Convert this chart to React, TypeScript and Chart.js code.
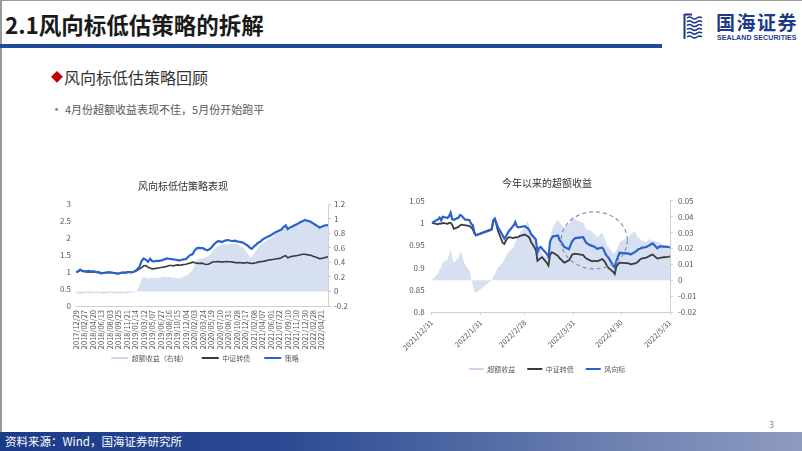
import React, { useEffect, useRef } from 'react';
import { Chart, registerables } from 'chart.js';

Chart.register(...registerables);

const FONT = '"Noto Sans CJK SC", "Noto Sans", sans-serif';
Chart.defaults.font.family = FONT;

// ---------------- Left chart: 风向标低估策略表现 ----------------
const leftTitle = '风向标低估策略表现';
const leftSeriesNames = ['超额收益（右轴）', '中证转债', '策略'];
const leftTickLabels = [
  '2017/12/29', '2018/02/27', '2018/04/20', '2018/06/13', '2018/08/03', '2018/09/25',
  '2018/11/21', '2019/01/14', '2019/03/12', '2019/05/07', '2019/06/27', '2019/08/16',
  '2019/10/15', '2019/12/04', '2020/02/03', '2020/03/24', '2020/05/19', '2020/07/10',
  '2020/08/31', '2020/10/28', '2020/12/17', '2021/02/08', '2021/04/07', '2021/06/01',
  '2021/07/22', '2021/09/10', '2021/11/10', '2021/12/30', '2022/02/28', '2022/04/21',
];
const leftPointsPerTick = 4;
const leftExcess = [
  -0.02, -0.03, -0.04, -0.03, -0.03, -0.02, -0.03, -0.03, -0.02, -0.02, -0.03, -0.02,
  -0.03, -0.04, -0.03, -0.02, -0.02, -0.02, -0.03, -0.02, -0.03, -0.04, -0.02, -0.02,
  -0.03, -0.02, -0.02, -0.01, -0.01, 0.02, 0.08, 0.17, 0.2, 0.19, 0.17, 0.19,
  0.18, 0.19, 0.18, 0.19, 0.19, 0.2, 0.2, 0.19, 0.2, 0.19, 0.18, 0.19,
  0.18, 0.18, 0.19, 0.21, 0.22, 0.23, 0.26, 0.29, 0.38, 0.43, 0.45, 0.45,
  0.46, 0.47, 0.48, 0.5, 0.53, 0.57, 0.6, 0.62, 0.63, 0.64, 0.65, 0.64,
  0.65, 0.66, 0.65, 0.66, 0.65, 0.63, 0.61, 0.6, 0.57, 0.52, 0.48, 0.47,
  0.52, 0.56, 0.6, 0.63, 0.66, 0.68, 0.7, 0.72, 0.73, 0.75, 0.78, 0.81,
  0.82, 0.84, 0.86, 0.87, 0.86, 0.87, 0.88, 0.89, 0.91, 0.92, 0.94, 0.95,
  0.97, 0.98, 0.97, 0.95, 0.93, 0.92, 0.9, 0.88, 0.88, 0.88, 0.89, 0.89,
];
const leftIndex = [
  1.0, 1.01, 1.06, 1.02, 1.01, 1.0, 1.01, 1.0, 1.0, 1.0, 0.99, 0.98,
  0.96, 0.97, 0.98, 0.99, 0.99, 0.98, 0.97, 0.96, 0.95, 0.97, 0.98, 0.98,
  0.99, 1.0, 0.99, 1.0, 1.02, 1.05, 1.09, 1.13, 1.18, 1.19, 1.14, 1.12,
  1.09, 1.1, 1.11, 1.12, 1.13, 1.14, 1.15, 1.17, 1.19, 1.19, 1.18, 1.2,
  1.21, 1.2, 1.21, 1.22, 1.23, 1.25, 1.26, 1.29, 1.28, 1.26, 1.25, 1.26,
  1.25, 1.23, 1.22, 1.24, 1.28, 1.3, 1.3, 1.31, 1.3, 1.29, 1.3, 1.31,
  1.3, 1.3, 1.29, 1.28, 1.27, 1.28, 1.27, 1.26, 1.27, 1.28, 1.26, 1.25,
  1.26, 1.27, 1.29, 1.3, 1.31, 1.32, 1.34, 1.35, 1.36, 1.37, 1.38, 1.39,
  1.4, 1.42, 1.46, 1.48, 1.42, 1.44, 1.46, 1.47, 1.48, 1.49, 1.51, 1.52,
  1.52, 1.51, 1.5, 1.49, 1.46, 1.44, 1.42, 1.39, 1.4, 1.42, 1.43, 1.45,
];
const leftStrategy = [
  1.0, 1.02, 1.07, 1.03, 1.03, 1.02, 1.03, 1.02, 1.02, 1.01, 1.0, 0.99,
  0.96, 0.97, 0.98, 0.99, 0.99, 0.98, 0.97, 0.96, 0.95, 0.97, 0.99, 0.98,
  0.99, 1.0, 0.99, 1.0, 1.03, 1.08, 1.16, 1.33, 1.4, 1.36, 1.3, 1.39,
  1.32, 1.31, 1.33, 1.32, 1.34, 1.35, 1.38, 1.4, 1.39, 1.38, 1.37, 1.36,
  1.35, 1.34, 1.36, 1.37, 1.38, 1.45, 1.5, 1.52, 1.63, 1.7, 1.71, 1.7,
  1.7, 1.66, 1.64, 1.67, 1.72, 1.8, 1.86, 1.91, 1.9, 1.88, 1.92, 1.93,
  1.94, 1.92, 1.91, 1.92, 1.9, 1.89, 1.88, 1.86, 1.82, 1.78, 1.72, 1.68,
  1.75, 1.8, 1.86, 1.89, 1.95, 1.99, 2.02, 2.05, 2.08, 2.12, 2.16, 2.19,
  2.22, 2.25, 2.32, 2.37, 2.26, 2.31, 2.33, 2.37, 2.4, 2.43, 2.47, 2.49,
  2.53, 2.51, 2.5, 2.47, 2.43, 2.39, 2.35, 2.31, 2.33, 2.36, 2.37, 2.38,
];

// ---------------- Right chart: 今年以来的超额收益 ----------------
const rightTitle = '今年以来的超额收益';
const rightSeriesNames = ['超额收益', '中证转债', '风向标'];
const rightDates = [
  '2021/12/31', '2022/1/4', '2022/1/5', '2022/1/6', '2022/1/7', '2022/1/10', '2022/1/11', '2022/1/12',
  '2022/1/13', '2022/1/14', '2022/1/17', '2022/1/18', '2022/1/19', '2022/1/20', '2022/1/21', '2022/1/24',
  '2022/1/25', '2022/1/26', '2022/1/27', '2022/1/28',
  '2022/2/7', '2022/2/8', '2022/2/9', '2022/2/10', '2022/2/11', '2022/2/14', '2022/2/15', '2022/2/16',
  '2022/2/17', '2022/2/18', '2022/2/21', '2022/2/22', '2022/2/23', '2022/2/24', '2022/2/25', '2022/2/28',
  '2022/3/1', '2022/3/2', '2022/3/3', '2022/3/4', '2022/3/7', '2022/3/8', '2022/3/9', '2022/3/10',
  '2022/3/11', '2022/3/14', '2022/3/15', '2022/3/16', '2022/3/17', '2022/3/18', '2022/3/21', '2022/3/22',
  '2022/3/23', '2022/3/24', '2022/3/25', '2022/3/28', '2022/3/29', '2022/3/30', '2022/3/31',
  '2022/4/1', '2022/4/6', '2022/4/7', '2022/4/8', '2022/4/11', '2022/4/12', '2022/4/13', '2022/4/14',
  '2022/4/15', '2022/4/18', '2022/4/19', '2022/4/20', '2022/4/21', '2022/4/22', '2022/4/25', '2022/4/26',
  '2022/4/27', '2022/4/28', '2022/4/29',
  '2022/5/5', '2022/5/6', '2022/5/9', '2022/5/10', '2022/5/11', '2022/5/12', '2022/5/13', '2022/5/16',
  '2022/5/17', '2022/5/18', '2022/5/19', '2022/5/20', '2022/5/23', '2022/5/24', '2022/5/25', '2022/5/26',
  '2022/5/27', '2022/5/30', '2022/5/31',
];
const rightExcess = [
  0.0, 0.004, 0.007, 0.008, 0.011, 0.013, 0.016, 0.02, 0.014, 0.011, 0.014, 0.018, 0.017, 0.013, 0.01, 0.006,
  0.001, -0.003, -0.007, -0.008,
  0.0, 0.002, 0.004, 0.006, 0.008, 0.011, 0.013, 0.015, 0.017, 0.018, 0.021, 0.024, 0.026, 0.027, 0.03, 0.033,
  0.036, 0.037, 0.033, 0.028, 0.024, 0.019, 0.019, 0.02, 0.017, 0.014, 0.013, 0.026, 0.031, 0.034, 0.038, 0.036,
  0.035, 0.034, 0.033, 0.035, 0.037, 0.04, 0.039,
  0.038, 0.036, 0.034, 0.032, 0.031, 0.03, 0.029, 0.028, 0.027, 0.03, 0.028, 0.025, 0.022, 0.021, 0.017, 0.017,
  0.019, 0.021, 0.024,
  0.027, 0.029, 0.031, 0.028, 0.027, 0.026, 0.025, 0.024, 0.025, 0.026, 0.025, 0.025, 0.024, 0.024, 0.023, 0.023,
  0.022, 0.022, 0.021,
];
const rightIndex = [
  1.0, 0.997, 0.999, 0.998, 1.0, 0.998, 1.0, 1.0, 0.996, 0.987, 0.991, 0.995, 0.996, 0.995, 0.995, 0.993,
  0.99, 0.986, 0.977, 0.973,
  0.986, 1.003, 1.008, 0.996, 0.982, 0.955, 0.953, 0.96, 0.966, 0.968, 0.966, 0.968, 0.967, 0.969, 0.971, 0.974,
  0.972, 0.97, 0.966, 0.957, 0.94, 0.915, 0.918, 0.921, 0.923, 0.91, 0.904, 0.928, 0.934, 0.933, 0.926, 0.921,
  0.918, 0.914, 0.911, 0.916, 0.922, 0.929, 0.93,
  0.931, 0.928, 0.923, 0.92, 0.915, 0.914, 0.915, 0.915, 0.914, 0.919, 0.916, 0.911, 0.904, 0.899, 0.89, 0.885,
  0.902, 0.907, 0.911,
  0.909, 0.907, 0.909, 0.911, 0.914, 0.918, 0.92, 0.922, 0.924, 0.926, 0.928, 0.929, 0.92, 0.921, 0.922, 0.922,
  0.923, 0.924, 0.925,
];
const rightVane = [
  1.0, 1.008, 1.012, 1.006, 1.014, 1.011, 1.015, 1.023, 1.008, 1.007, 1.012, 1.018, 1.016, 1.012, 1.008, 1.006,
  0.998, 0.995, 0.98, 0.972,
  0.985, 1.006, 1.01, 1.0, 0.99, 0.972, 0.965, 0.97, 0.976, 0.982, 0.995, 1.002, 0.992, 0.99, 0.991, 0.993,
  0.99, 0.988, 0.983, 0.975, 0.963, 0.934, 0.944, 0.946, 0.942, 0.93, 0.923, 0.958, 0.966, 0.97, 0.972, 0.962,
  0.957, 0.952, 0.946, 0.941, 0.95, 0.959, 0.963,
  0.966, 0.968, 0.961, 0.955, 0.949, 0.948, 0.947, 0.944, 0.942, 0.945, 0.94, 0.931, 0.926, 0.922, 0.904, 0.9,
  0.914, 0.924, 0.933,
  0.931, 0.929, 0.935, 0.938, 0.941, 0.942, 0.944, 0.946, 0.948, 0.95, 0.952, 0.954, 0.943, 0.946, 0.948, 0.947,
  0.947, 0.946, 0.945,
];
const rightTickDates = ['2021/12/31', '2022/1/31', '2022/2/28', '2022/3/31', '2022/4/30', '2022/5/31'];
// dashed highlight ellipse (in data units)
const highlightDate = '2022/4/13';
const highlightValue = 0.961;
const highlightHalfDays = 21;
const highlightHalfValue = 0.064;

// ---------------- helpers ----------------
const dayNumber = (s: string) => {
  const [y, m, d] = s.split('/').map(Number);
  return Date.UTC(y, m - 1, d) / 86400000;
};
const rightDay0 = dayNumber(rightDates[0]);
const rightDay = (s: string) => dayNumber(s) - rightDay0;
const fmt = (v: any, digits: number) => String(Math.round(Number(v) * Math.pow(10, digits)) / Math.pow(10, digits));

const TICK_COLOR = '#595959';
const AXIS_COLOR = '#d0d0d0';
const AREA_FILL = '#d7e0f1';
const AREA_LEGEND = '#c9d6ee';
const INDEX_COLOR = '#3a3a3a';
const BLUE = '#2a62cc';

const legendLabels = (colors: string[]) => (chart: any) =>
  chart.data.datasets.map((ds: any, i: number) => ({
    text: ds.label,
    fillStyle: colors[i],
    strokeStyle: colors[i],
    lineWidth: 2,
    pointStyle: 'line',
    hidden: false,
    datasetIndex: i,
    fontColor: TICK_COLOR,
  }));

const legendOptions = (colors: string[], swatch: number, gap: number) => ({
  position: 'bottom' as const,
  labels: {
    usePointStyle: true,
    pointStyle: 'line',
    pointStyleWidth: swatch,
    boxHeight: 7,
    padding: gap,
    color: TICK_COLOR,
    font: { size: 7, family: FONT },
    generateLabels: legendLabels(colors),
  },
});

// nudges the legend box so it can sit close under long rotated tick labels
const legendNudge = (dx: number, lift: number) => ({
  id: 'legendNudge',
  afterLayout(chart: any) {
    const lg = chart.legend;
    if (lg) {
      lg.top -= lift;
      lg.bottom -= lift;
      lg.left += dx;
      lg.right += dx;
    }
  },
});

const highlightPlugin = {
  id: 'highlightEllipse',
  afterDatasetsDraw(chart: any) {
    const xs = chart.scales.x;
    const ys = chart.scales.y;
    const cxv = rightDay(highlightDate);
    const cx = xs.getPixelForValue(cxv);
    const cy = ys.getPixelForValue(highlightValue);
    const rx = Math.abs(xs.getPixelForValue(cxv + highlightHalfDays) - cx);
    const ry = Math.abs(ys.getPixelForValue(highlightValue + highlightHalfValue) - cy);
    const ctx = chart.ctx;
    ctx.save();
    ctx.setLineDash([4, 3]);
    ctx.strokeStyle = '#8393ad';
    ctx.lineWidth = 1.2;
    ctx.beginPath();
    ctx.ellipse(cx, cy, rx, ry, 0, 0, Math.PI * 2);
    ctx.stroke();
    ctx.restore();
  },
};

function leftConfig(): any {
  const xs = leftStrategy.map((_, i) => i);
  return {
    type: 'line',
    data: {
      datasets: [
        {
          label: leftSeriesNames[0],
          data: xs.map((x) => ({ x, y: leftExcess[x] })),
          yAxisID: 'y1',
          borderWidth: 0,
          borderColor: 'rgba(0,0,0,0)',
          backgroundColor: AREA_FILL,
          fill: 'origin',
          pointRadius: 0,
          order: 3,
        },
        {
          label: leftSeriesNames[1],
          data: xs.map((x) => ({ x, y: leftIndex[x] })),
          yAxisID: 'y',
          borderWidth: 1.6,
          borderColor: INDEX_COLOR,
          pointRadius: 0,
          fill: false,
          order: 2,
        },
        {
          label: leftSeriesNames[2],
          data: xs.map((x) => ({ x, y: leftStrategy[x] })),
          yAxisID: 'y',
          borderWidth: 2.2,
          borderColor: BLUE,
          pointRadius: 0,
          fill: false,
          order: 1,
        },
      ],
    },
    plugins: [legendNudge(22, 11.5)],
    options: {
      responsive: false,
      animation: false,
      events: [],
      layout: { padding: { left: 0, right: 0, top: 0, bottom: 0 } },
      plugins: {
        title: {
          display: true,
          text: leftTitle,
          color: '#333333',
          font: { size: 10, weight: 'normal', family: FONT },
          padding: { top: 4, bottom: 12 },
        },
        legend: legendOptions([AREA_LEGEND, INDEX_COLOR, BLUE], 17, 14),
        tooltip: { enabled: false },
      },
      scales: {
        x: {
          type: 'linear',
          min: 0,
          max: leftStrategy.length - 1,
          afterBuildTicks: (axis: any) => {
            axis.ticks = leftTickLabels.map((_, k) => ({ value: k * leftPointsPerTick }));
          },
          afterFit: (axis: any) => {
            axis.height = 46;
          },
          ticks: {
            autoSkip: false,
            minRotation: 90,
            maxRotation: 90,
            padding: 4,
            color: TICK_COLOR,
            font: { size: 7.5 },
            callback: (v: any) => leftTickLabels[Math.round(Number(v) / leftPointsPerTick)] ?? '',
          },
          grid: { display: false, drawTicks: false },
          border: { display: true, color: AXIS_COLOR },
        },
        y: {
          position: 'left',
          min: 0,
          max: 3,
          afterFit: (axis: any) => {
            axis.width = 62;
          },
          ticks: { stepSize: 0.5, padding: 5, color: TICK_COLOR, font: { size: 8 }, callback: (v: any) => fmt(v, 2) },
          grid: { display: false, drawTicks: false },
          border: { display: false },
        },
        y1: {
          position: 'right',
          min: -0.2,
          max: 1.2,
          afterFit: (axis: any) => {
            axis.width = 24;
          },
          ticks: { stepSize: 0.2, padding: 3, color: TICK_COLOR, font: { size: 8 }, callback: (v: any) => fmt(v, 2) },
          grid: { display: true, drawOnChartArea: false, drawTicks: true, tickLength: 3, color: AXIS_COLOR },
          border: { display: true, color: AXIS_COLOR },
        },
      },
    },
  };
}

function rightConfig(): any {
  const pts = (vals: number[]) => rightDates.map((d, i) => ({ x: rightDay(d), y: vals[i] }));
  return {
    type: 'line',
    data: {
      datasets: [
        {
          label: rightSeriesNames[0],
          data: pts(rightExcess),
          yAxisID: 'y1',
          borderWidth: 0,
          borderColor: 'rgba(0,0,0,0)',
          backgroundColor: AREA_FILL,
          fill: 'origin',
          pointRadius: 0,
          order: 3,
        },
        {
          label: rightSeriesNames[1],
          data: pts(rightIndex),
          yAxisID: 'y',
          borderWidth: 1.8,
          borderColor: INDEX_COLOR,
          pointRadius: 0,
          fill: false,
          order: 2,
        },
        {
          label: rightSeriesNames[2],
          data: pts(rightVane),
          yAxisID: 'y',
          borderWidth: 2.2,
          borderColor: BLUE,
          pointRadius: 0,
          fill: false,
          order: 1,
        },
      ],
    },
    plugins: [highlightPlugin],
    options: {
      responsive: false,
      animation: false,
      events: [],
      layout: { padding: { left: 0, right: 0, top: 0, bottom: 1.5 } },
      plugins: {
        title: {
          display: true,
          text: rightTitle,
          color: '#333333',
          font: { size: 10, weight: 'normal', family: FONT },
          padding: { top: 5.3, bottom: 11.4 },
        },
        legend: legendOptions([AREA_LEGEND, INDEX_COLOR, BLUE], 15, 12),
        tooltip: { enabled: false },
      },
      scales: {
        x: {
          type: 'linear',
          min: 0,
          max: rightDay(rightTickDates[rightTickDates.length - 1]),
          afterBuildTicks: (axis: any) => {
            axis.ticks = rightTickDates.map((d) => ({ value: rightDay(d) }));
          },
          afterFit: (axis: any) => {
            axis.height = 41.5;
          },
          ticks: {
            autoSkip: false,
            minRotation: 45,
            maxRotation: 45,
            padding: 3,
            color: TICK_COLOR,
            font: { size: 7.5 },
            callback: (v: any) => rightTickDates.find((d) => rightDay(d) === Number(v)) ?? '',
          },
          grid: { display: true, drawOnChartArea: false, drawTicks: true, tickLength: 3, color: AXIS_COLOR },
          border: { display: true, color: AXIS_COLOR },
        },
        y: {
          position: 'left',
          min: 0.8,
          max: 1.05,
          afterFit: (axis: any) => {
            axis.width = 39.7;
          },
          ticks: { stepSize: 0.05, padding: 7, color: TICK_COLOR, font: { size: 8 }, callback: (v: any) => fmt(v, 3) },
          grid: { display: false, drawTicks: false },
          border: { display: false },
        },
        y1: {
          position: 'right',
          min: -0.02,
          max: 0.05,
          afterFit: (axis: any) => {
            axis.width = 32;
          },
          ticks: { stepSize: 0.01, padding: 5, color: TICK_COLOR, font: { size: 8 }, callback: (v: any) => fmt(v, 3) },
          grid: { display: true, drawOnChartArea: false, drawTicks: true, tickLength: 3, color: AXIS_COLOR },
          border: { display: true, color: AXIS_COLOR },
        },
      },
    },
  };
}

function ChartCanvas(props: { left: number; top: number; width: number; height: number; make: () => any }) {
  const ref = useRef<HTMLCanvasElement>(null);
  useEffect(() => {
    const chart = new Chart(ref.current as HTMLCanvasElement, props.make());
    return () => chart.destroy();
  }, []);
  return (
    <canvas
      ref={ref}
      width={props.width}
      height={props.height}
      style={{ position: 'absolute', left: props.left, top: props.top, width: props.width, height: props.height }}
    />
  );
}

function Logo() {
  const navy = '#1c3a8a';
  return (
    <>
      <svg width="20" height="27" viewBox="0 0 20 27" style={{ position: 'absolute', left: 683, top: 13 }}>
        <path d="M1.5 1 V26 M1.5 1.5 H9" stroke={navy} strokeWidth="2" fill="none" />
        {[0, 1, 2, 3, 4, 5].map((k) => (
          <path
            key={k}
            d={`M4 ${5 + k * 3.8} q2.5 -2 5 0 t5 0 t5 0`}
            stroke={navy}
            strokeWidth="1.5"
            fill="none"
          />
        ))}
      </svg>
      <div
        style={{
          position: 'absolute',
          left: 716,
          top: 10,
          fontSize: 19,
          fontWeight: 700,
          color: navy,
          letterSpacing: 1.5,
          whiteSpace: 'nowrap',
          lineHeight: '24px',
        }}
      >
        国海证券
      </div>
      <div
        style={{
          position: 'absolute',
          left: 717,
          top: 33,
          fontSize: 7,
          fontWeight: 700,
          color: navy,
          whiteSpace: 'nowrap',
          lineHeight: '9px',
          fontFamily: '"Liberation Sans Narrow", "Liberation Sans", sans-serif',
          letterSpacing: 0.1,
        }}
      >
        SEALAND SECURITIES
      </div>
    </>
  );
}

export default function App() {
  return (
    <div
      style={{
        position: 'fixed',
        left: 0,
        top: 0,
        width: 802,
        height: 451,
        background: '#ffffff',
        overflow: 'hidden',
        fontFamily: FONT,
      }}
    >
      <div style={{ position: 'absolute', left: 0, top: 0, width: 802, height: 1, background: '#9a9a9a' }} />
      <div style={{ position: 'absolute', left: 0, top: 0, width: 2, height: 451, background: '#9a9a9a' }} />

      <div
        style={{
          position: 'absolute',
          left: 5,
          top: 8,
          fontSize: 22.5,
          fontWeight: 700,
          color: '#1a1a1a',
          letterSpacing: 0,
          whiteSpace: 'nowrap',
          lineHeight: '32px',
        }}
      >
        2.1风向标低估策略的拆解
      </div>
      <div style={{ position: 'absolute', left: 0, top: 44, width: 662, height: 4, background: '#1f4b96' }} />
      <Logo />

      <div
        style={{
          position: 'absolute',
          left: 51,
          top: 66,
          whiteSpace: 'nowrap',
          lineHeight: '22px',
          display: 'flex',
          alignItems: 'center',
        }}
      >
        <span style={{ color: '#c00000', fontSize: 12, marginRight: 1 }}>◆</span>
        <span style={{ color: '#333333', fontSize: 16 }}>风向标低估策略回顾</span>
      </div>
      <div
        style={{
          position: 'absolute',
          left: 50,
          top: 101,
          whiteSpace: 'nowrap',
          lineHeight: '16px',
          fontSize: 11,
          color: '#595959',
          display: 'flex',
          alignItems: 'center',
        }}
      >
        <span style={{ color: '#7f7f7f', fontSize: 13, width: 15 }}>•</span>
        <span>4月份超额收益表现不佳，5月份开始跑平</span>
      </div>

      <ChartCanvas left={14} top={176} width={338} height={207} make={leftConfig} />
      <ChartCanvas left={392} top={172} width={310} height={212} make={rightConfig} />

      <div style={{ position: 'absolute', left: 769, top: 418, fontSize: 9, color: '#8c8c8c' }}>3</div>

      <div
        style={{
          position: 'absolute',
          left: 0,
          top: 432,
          width: 802,
          height: 19,
          background: 'linear-gradient(90deg, #1b3a88 0%, #2a4a93 35%, #6b7fb0 75%, #8e9bbf 100%)',
          color: '#ffffff',
          fontSize: 11.5,
          lineHeight: '19px',
          paddingLeft: 5,
          boxSizing: 'border-box',
          whiteSpace: 'nowrap',
        }}
      >
        资料来源：Wind，国海证券研究所
      </div>
    </div>
  );
}
